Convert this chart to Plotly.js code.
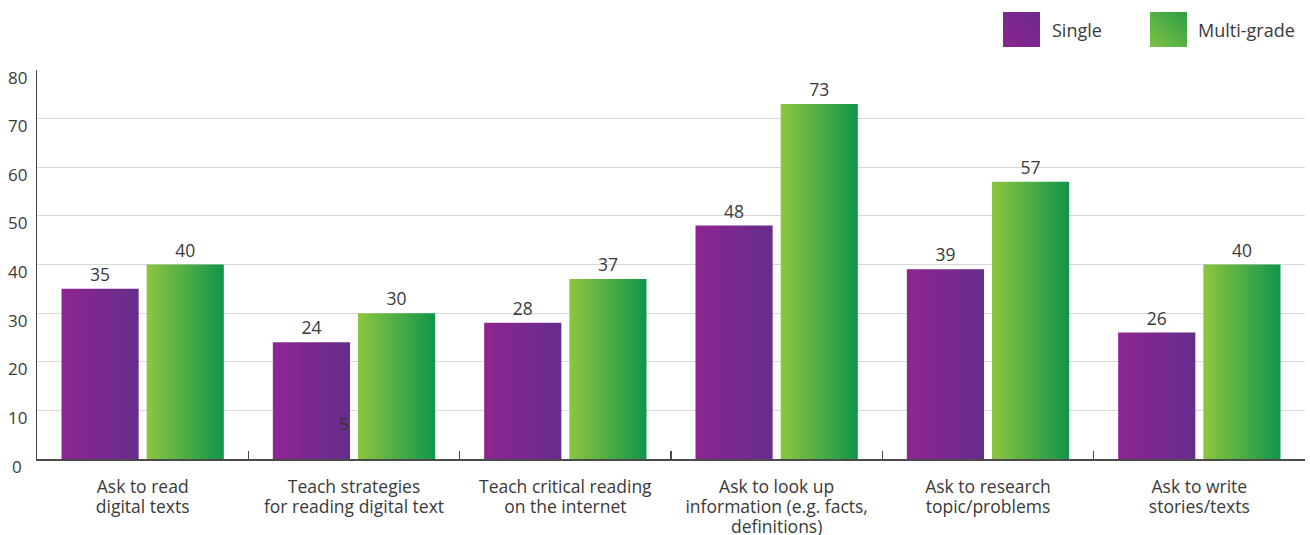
<!DOCTYPE html>
<html>
<head>
<meta charset="utf-8">
<script src="https://cdn.plot.ly/plotly-3.0.1.min.js"></script>
<style>
  html, body { margin: 0; padding: 0; background: #ffffff; }
  #chart { width: 1310px; height: 535px; }
</style>
</head>
<body>
<div id="chart"></div>
<script>
// Teaching practices with digital texts, by class type (%)
const categories = [
  'Ask to read<br>digital texts',
  'Teach strategies<br>for reading digital text',
  'Teach critical reading<br>on the internet',
  'Ask to look up<br>information (e.g. facts,<br>definitions)',
  'Ask to research<br>topic/problems',
  'Ask to write<br>stories/texts'
];
const seriesNames = ['Single', 'Multi-grade'];
const singleValues = [35, 24, 28, 48, 39, 26];
const multiValues = [40, 30, 37, 73, 57, 40];
const yTicks = [0, 10, 20, 30, 40, 50, 60, 70, 80];

const FONT = '"Open Sans", Lato, sans-serif';
const TEXT = '#3a3a3a';
const LABEL_SIZE = 17.5;

const plotLeft = 37, plotRight = 1305, plotTop = 70, plotBottom = 459;
const plotW = plotRight - plotLeft, plotH = plotBottom - plotTop;
const px = v => (v - plotLeft) / plotW;
const py = v => (plotBottom - v) / plotH;

const barTrace = (name, values) => ({
  type: 'bar',
  name: name,
  x: categories,
  y: values,
  marker: { color: name === 'Single' ? '#7a2890' : '#4fae45', line: { width: 0 } },
  text: values.map(String),
  textposition: 'outside',
  textfont: { family: FONT, size: 17.5, color: TEXT },
  cliponaxis: false,
  hoverinfo: 'skip'
});

const data = [barTrace(seriesNames[0], singleValues), barTrace(seriesNames[1], multiValues)];

// y tick labels, centred under one another left of the axis, sitting just below their gridline
const annotations = yTicks.map(t => ({
  xref: 'paper', yref: 'y', x: px(17), y: t, yshift: -7,
  text: String(t), showarrow: false, xanchor: 'center', yanchor: 'middle',
  font: { family: FONT, size: 17, color: TEXT }
}));

// legend labels
annotations.push(
  { xref: 'paper', yref: 'paper', x: px(1050), y: py(30), text: seriesNames[0], showarrow: false,
    xanchor: 'left', yanchor: 'middle', font: { family: FONT, size: 18, color: TEXT } },
  { xref: 'paper', yref: 'paper', x: px(1196), y: py(30), text: seriesNames[1], showarrow: false,
    xanchor: 'left', yanchor: 'middle', font: { family: FONT, size: 18, color: TEXT } },
  { xref: 'paper', yref: 'paper', x: px(344), y: py(423), text: '5', showarrow: false,
    xanchor: 'center', yanchor: 'middle', font: { family: FONT, size: 17, color: '#333333' } }
);

// legend swatches
const shapes = [
  { type: 'rect', xref: 'paper', yref: 'paper', x0: px(1003), x1: px(1040), y0: py(47), y1: py(12),
    fillcolor: '#7a2890', line: { width: 0 }, layer: 'above' },
  { type: 'rect', xref: 'paper', yref: 'paper', x0: px(1150), x1: px(1187), y0: py(47), y1: py(12),
    fillcolor: '#4fae45', line: { width: 0 }, layer: 'above' }
];

const layout = {
  width: 1310,
  height: 535,
  margin: { l: plotLeft, r: 1310 - plotRight, t: plotTop, b: 535 - plotBottom, pad: 0 },
  paper_bgcolor: '#ffffff',
  plot_bgcolor: '#ffffff',
  showlegend: false,
  barmode: 'group',
  bargap: 0.194,
  bargroupgap: 0.094,
  font: { family: FONT, size: 16, color: TEXT },
  xaxis: {
    type: 'category',
    showline: true, linecolor: '#4a4a4a', linewidth: 1.5,
    ticks: 'inside', tickson: 'boundaries', ticklen: 8, tickwidth: 1.5, tickcolor: '#4a4a4a',
    showgrid: false, zeroline: false,
    tickfont: { family: FONT, size: LABEL_SIZE, color: TEXT },
    ticklabelstandoff: 11
  },
  yaxis: {
    range: [0, 80],
    tickvals: yTicks,
    showticklabels: false,
    showgrid: true, gridcolor: '#d9d9d9', gridwidth: 1.2,
    showline: true, linecolor: '#4a4a4a', linewidth: 1.5,
    zeroline: false, ticks: ''
  },
  annotations: annotations,
  shapes: shapes
};

function addGradient(defs, id, stops, x2, y1, y2) {
  const ns = 'http://www.w3.org/2000/svg';
  const g = document.createElementNS(ns, 'linearGradient');
  g.setAttribute('id', id);
  g.setAttribute('x1', '0'); g.setAttribute('x2', x2);
  g.setAttribute('y1', y1); g.setAttribute('y2', y2);
  stops.forEach(([off, col]) => {
    const s = document.createElementNS(ns, 'stop');
    s.setAttribute('offset', off);
    s.setAttribute('stop-color', col);
    g.appendChild(s);
  });
  defs.appendChild(g);
}

Plotly.newPlot('chart', data, layout, { staticPlot: true, displayModeBar: false }).then(gd => {
  const svg = gd.querySelector('.main-svg');
  let defs = svg.querySelector('defs');
  if (!defs) { defs = document.createElementNS('http://www.w3.org/2000/svg', 'defs'); svg.prepend(defs); }
  // horizontal shading on the bars
  addGradient(defs, 'barPurple', [['0', '#8e2591'], ['1', '#652d8c']], '1', '0', '0');
  addGradient(defs, 'barGreen', [['0', '#8dc63f'], ['1', '#10954a']], '1', '0', '0');
  // diagonal shading on the legend swatches
  addGradient(defs, 'keyPurple', [['0', '#8b2490'], ['1', '#6c2a8d']], '1', '1', '0');
  addGradient(defs, 'keyGreen', [['0', '#7cc242'], ['1', '#2f9e46']], '1', '1', '0');

  const traces = gd.querySelectorAll('.barlayer .trace');
  const fills = ['url(#barPurple)', 'url(#barGreen)'];
  traces.forEach((tr, i) => {
    tr.querySelectorAll('.point path').forEach(p => { p.style.fill = fills[i]; });
  });
  const keyFills = ['url(#keyPurple)', 'url(#keyGreen)'];
  gd.querySelectorAll('.shapelayer path').forEach((p, i) => {
    if (keyFills[i]) p.style.fill = keyFills[i];
  });
  // tighter line spacing in the multi-line category labels (20px per line);
  // each line's dy is measured from the label's own y, so scale it
  const scale = (20 / LABEL_SIZE) / 1.3;
  gd.querySelectorAll('.xtick text tspan.line').forEach(ts => {
    const dy = parseFloat(ts.getAttribute('dy'));
    if (dy) ts.setAttribute('dy', (dy * scale).toFixed(3) + 'em');
  });
});
</script>
</body>
</html>
